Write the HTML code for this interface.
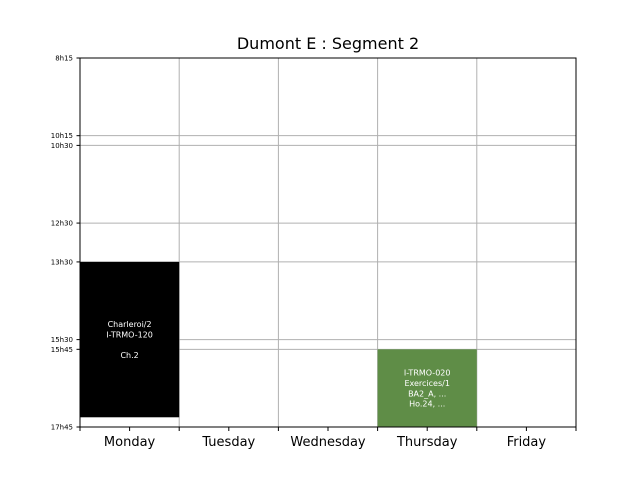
<!DOCTYPE html>
<html><head><meta charset="utf-8"><style>body{margin:0;background:#fff}svg{display:block;font-family:"DejaVu Sans","Liberation Sans",sans-serif}</style></head>
<body>
<svg id="chart" width="640" height="480">
<text x="328" y="49" font-size="16" text-anchor="middle">Dumont E : Segment 2</text>
<g id="grid"></g><g id="blocks"></g><g id="axes"></g>
</svg>
<script>
const days = ["Monday","Tuesday","Wednesday","Thursday","Friday"];
const timeTicks = [495, 615, 630, 750, 810, 930, 945, 1065];
const tickLabels = ["8h15","10h15","10h30","12h30","13h30","15h30","15h45","17h45"];
const blockDays = [0, 3];
const blockStarts = [810, 945];
const blockEnds = [1050, 1065];
const blockColors = ["#000000", "#5f8d47"];
const blockTexts = [["Charleroi/2","I-TRMO-120","","Ch.2"],["I-TRMO-020","Exercices/1","BA2_A, ...","Ho.24, ..."]];
const L=80,R=576,T=58,B=427,tMin=495,tMax=1065;
const ns="http://www.w3.org/2000/svg";
const y=t=>T+(t-tMin)/(tMax-tMin)*(B-T);
const dw=(R-L)/days.length;
const x=d=>L+d*dw;
function mk(tag,attrs,parent,txt){const e=document.createElementNS(ns,tag);for(const k in attrs)e.setAttribute(k,attrs[k]);if(txt!==undefined)e.textContent=txt;document.getElementById(parent).appendChild(e);return e;}
timeTicks.forEach((t,i)=>{
  const g=mk("line",{x1:L,x2:R,y1:y(t),y2:y(t),stroke:"#b0b0b0","stroke-width":1},"grid");
  
  
  const tk=mk("line",{x1:L-3.5,x2:L,y1:y(t),y2:y(t),stroke:"#000"},"axes");
  
  
  const lb=mk("text",{x:L-7,y:y(t)+2.5,"font-size":7,"text-anchor":"end"},"axes",tickLabels[i]);
  
  
});
for(let d=0;d<=days.length;d++){
  const g=mk("line",{x1:x(d),x2:x(d),y1:T,y2:B,stroke:"#b0b0b0"},"grid");
  
  
  const tk=mk("line",{x1:x(d),x2:x(d),y1:B,y2:B+4,stroke:"#000"},"axes");
  
  
}
days.forEach((dn,d)=>{
  const tk=mk("line",{x1:x(d)+dw/2,x2:x(d)+dw/2,y1:B,y2:B+4,stroke:"#000"},"axes");
  
  
  const lb=mk("text",{x:x(d)+dw/2,y:B+19,"font-size":13,"text-anchor":"middle"},"axes",dn);
  
  
});
blockDays.forEach((d,i)=>{
  const r=mk("rect",{x:x(d),y:y(blockStarts[i]),width:dw,height:y(blockEnds[i])-y(blockStarts[i]),fill:blockColors[i]},"blocks");
  
  
  const lines=blockTexts[i];const cy=(y(blockStarts[i])+y(blockEnds[i]))/2;const lh=10.3;
  lines.forEach((s,j)=>{
    const t=mk("text",{x:x(d)+dw/2,y:cy+(j-(lines.length-1)/2)*lh+3,"font-size":8,fill:"#fff","text-anchor":"middle"},"blocks",s);
    
    
  });
});
const fr=mk("rect",{x:L,y:T,width:R-L,height:B-T,fill:"none",stroke:"#000"},"axes");


</script>
</body></html>
